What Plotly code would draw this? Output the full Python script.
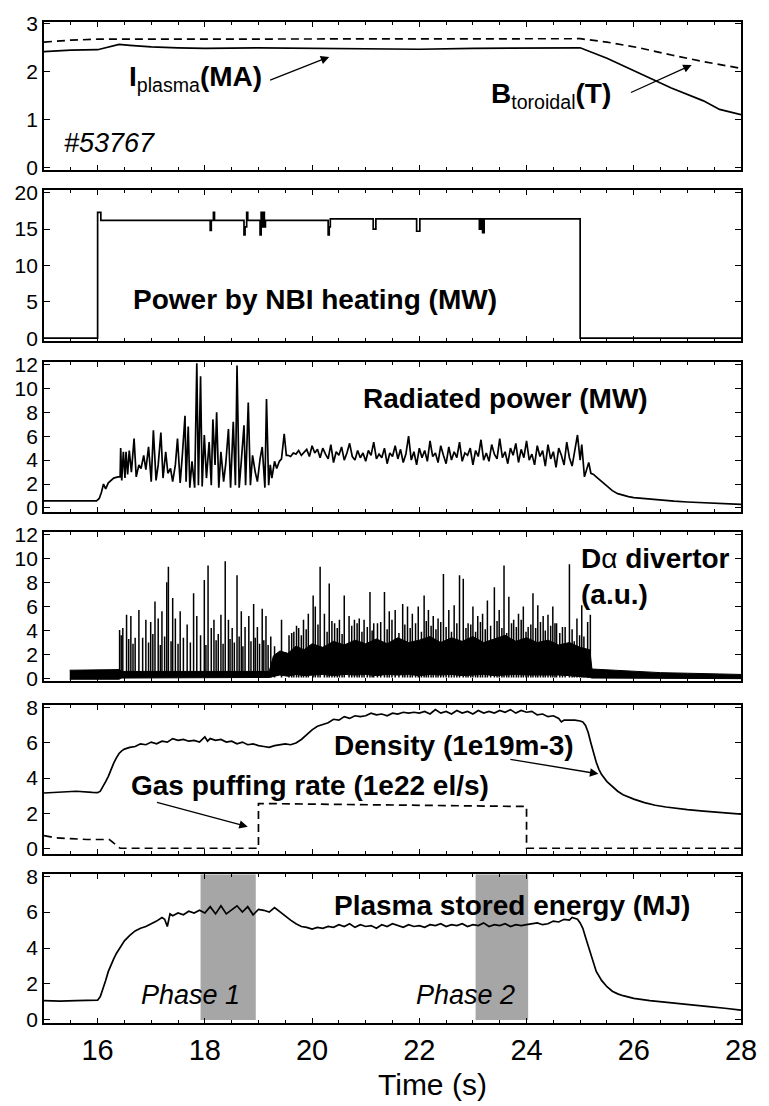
import plotly.graph_objects as go

# ---------------- data ----------------
ip_t = [15.0, 15.5, 16.0, 16.2, 16.4, 16.6, 17.0, 17.5, 18.0, 19.0, 20.0, 21.0, 22.0, 23.0, 24.0, 25.0, 25.5, 26.1, 26.7, 27.3, 27.6, 28.0]
ip_v = [2.42, 2.45, 2.46, 2.52, 2.57, 2.55, 2.52, 2.50, 2.49, 2.50, 2.49, 2.48, 2.47, 2.49, 2.49, 2.50, 2.28, 1.97, 1.66, 1.39, 1.21, 1.10]
bt_t = [15.0, 15.5, 16.0, 18.0, 20.0, 22.0, 24.0, 25.0, 25.5, 26.1, 26.7, 27.3, 28.0]
bt_v = [2.62, 2.66, 2.68, 2.68, 2.68, 2.69, 2.69, 2.69, 2.62, 2.50, 2.35, 2.21, 2.07]

nbi_t = [15.0, 16.0, 16.06, 18.10, 18.12, 18.16, 18.18, 18.73, 18.75, 18.78, 18.80, 19.03, 19.05, 19.07, 19.09, 19.11, 19.13,
         20.30, 20.32, 20.34, 21.14, 21.19, 21.95, 22.01, 23.12, 23.15, 23.18, 23.21, 25.0, 28.0]
nbi_v = [0.0, 17.3, 16.2, 14.8, 16.2, 17.3, 16.2, 14.2, 15.3, 17.3, 16.2, 14.2, 17.3, 15.3, 17.3, 15.3, 16.2,
         14.2, 15.3, 16.4, 15.0, 16.4, 14.7, 16.4, 15.0, 16.4, 14.5, 16.4, 0.0, 0.0]

prad_t = [15.0, 15.5, 15.98, 16.03, 16.07, 16.11, 16.15, 16.2, 16.25, 16.3, 16.38, 16.42,
          16.43, 16.45, 16.48, 16.51, 16.53, 16.56, 16.59, 16.63, 16.68, 16.72, 16.77, 16.81, 16.86, 16.90, 16.95,
          17.00, 17.04, 17.09, 17.13, 17.18, 17.22, 17.27, 17.31, 17.36, 17.40, 17.45, 17.49, 17.54, 17.58, 17.63,
          17.65, 17.69, 17.72, 17.76, 17.81, 17.85, 17.88, 17.92, 17.95, 17.99, 18.03, 18.08, 18.12, 18.15, 18.19,
          18.22, 18.26, 18.30, 18.35, 18.39, 18.44, 18.48, 18.53, 18.57, 18.60, 18.64, 18.68, 18.73, 18.76, 18.81,
          18.85, 18.89, 18.94, 18.98, 19.03, 19.07, 19.12, 19.15, 19.19, 19.22, 19.25, 19.30, 19.34, 19.39, 19.43,
          19.48, 19.52,
          19.55, 19.60, 19.65, 19.70, 19.75, 19.80, 19.85, 19.90, 19.95, 20.00, 20.05, 20.10, 20.15, 20.20, 20.25,
          20.30, 20.35, 20.40, 20.45, 20.50, 20.55, 20.60, 20.65, 20.70, 20.75, 20.80, 20.85, 20.90, 20.95, 21.00,
          21.05, 21.10, 21.15, 21.20, 21.25, 21.30, 21.35, 21.40, 21.45, 21.50, 21.55, 21.60, 21.65, 21.70, 21.75,
          21.80, 21.85, 21.90, 21.95, 22.00, 22.05, 22.10, 22.15, 22.20, 22.25, 22.30, 22.35, 22.40, 22.45, 22.50,
          22.55, 22.60, 22.65, 22.70, 22.75, 22.80, 22.85, 22.90, 22.95, 23.00, 23.05, 23.10, 23.15, 23.20, 23.25,
          23.30, 23.35, 23.40, 23.45, 23.50, 23.55, 23.60, 23.65, 23.70, 23.75, 23.80, 23.85, 23.90, 23.95, 24.00,
          24.05, 24.10, 24.15, 24.20, 24.25, 24.30, 24.35, 24.40, 24.45, 24.50, 24.55, 24.60, 24.65, 24.70, 24.75,
          24.80, 24.85, 24.90, 24.95, 25.00, 25.03, 25.08, 25.12, 25.16, 25.20, 25.25, 25.30, 25.40, 25.50, 25.60,
          25.70, 25.80, 25.90, 26.00, 26.25, 26.50, 26.75, 27.00, 27.50, 28.00]
prad_v = [0.6, 0.6, 0.6, 0.8, 1.3, 2.0, 1.6, 2.1, 2.3, 2.5, 2.6, 2.6,
          5.0, 2.3, 4.7, 2.5, 4.7, 2.8, 4.8, 3.0, 5.8, 2.6, 3.6, 3.3, 4.4, 3.2, 5.1,
          2.2, 6.5, 2.3, 3.6, 6.3, 2.5, 4.7, 2.9, 3.3, 2.2, 3.6, 5.8, 2.1, 4.4, 7.7,
          2.2, 6.8, 1.7, 3.9, 1.7, 12.1, 1.9, 11.0, 1.8, 6.1, 2.5, 5.5, 1.9, 7.4, 3.6,
          8.0, 1.7, 4.7, 2.2, 3.7, 6.6, 1.7, 7.2, 1.9, 11.9, 1.7, 3.9, 6.9, 1.9, 8.8,
          1.9, 4.4, 3.0, 2.2, 4.1, 5.1, 1.7, 9.1, 1.9, 3.6, 2.5, 3.9, 3.3, 3.9, 4.1,
          6.2, 4.4,
          4.4, 4.3, 4.6, 4.5, 4.8, 4.4, 4.7, 4.9, 4.3, 5.2, 4.6, 4.9, 4.2, 5.0, 4.5,
          4.1, 5.3, 3.8, 4.7, 4.4, 5.1, 4.0, 4.6, 5.4, 4.3, 4.0, 4.8, 4.2, 4.6, 3.9,
          4.8, 4.4, 5.5, 4.1, 4.5, 4.2, 5.0, 3.7, 4.6, 4.3, 5.2, 4.1, 4.9, 3.8, 4.5,
          6.0, 4.0, 4.7, 3.6, 5.0, 4.2, 4.8, 3.9, 5.6, 4.3, 4.6, 3.8, 5.2, 4.4, 3.7,
          5.1, 4.0, 4.7, 4.2, 5.5, 3.9, 4.6, 4.4, 5.0, 3.6, 4.8, 4.3, 5.7, 4.0, 4.6,
          3.9, 5.3, 4.5, 4.1, 5.8, 4.2, 4.7, 3.7, 5.0, 4.4, 5.4, 3.8, 4.9, 4.2, 5.6,
          4.0, 4.5, 3.6, 5.2, 4.3, 4.8, 3.5, 5.3, 4.1, 4.7, 3.4, 5.0, 4.4, 3.6, 5.5,
          4.2, 3.5, 5.0, 6.1, 4.0, 5.3, 2.6, 3.2, 3.8, 2.9, 2.8, 2.6, 2.2, 1.8, 1.45,
          1.2, 1.05, 0.95, 0.87, 0.75, 0.65, 0.57, 0.5, 0.4, 0.3]

# D-alpha: noise band envelope and spikes
da_band_t = [15.48, 16.4, 16.45, 19.2, 19.28, 19.4, 19.55, 19.7, 19.85, 20.0, 20.2, 20.4, 20.6, 20.8, 21.0, 21.2,
             21.4, 21.6, 21.8, 22.0, 22.2, 22.4, 22.6, 22.8, 23.0, 23.2, 23.4, 23.6, 23.8, 24.0, 24.2, 24.4, 24.6,
             24.8, 25.0, 25.18, 25.22, 25.6, 26.0, 26.5, 27.0, 27.5, 28.0]
da_band_hi = [0.7, 0.75, 0.6, 0.6, 1.9, 2.3, 2.1, 2.7, 2.4, 2.9, 2.6, 3.1, 2.8, 3.2, 2.9, 3.3,
              2.9, 3.4, 3.0, 3.2, 3.5, 3.0, 3.4, 3.1, 3.5, 3.0, 3.3, 3.6, 3.1, 3.4, 3.0, 3.2, 2.8,
              3.0, 2.6, 2.4, 0.8, 0.7, 0.6, 0.5, 0.45, 0.4, 0.35]
da_band_lo = [-0.05, -0.05, 0.05, 0.1, 0.2, 0.3, 0.2, 0.35, 0.25, 0.3, 0.35, 0.25, 0.35, 0.3, 0.35, 0.25,
              0.35, 0.3, 0.35, 0.25, 0.35, 0.3, 0.35, 0.25, 0.3, 0.35, 0.25, 0.3, 0.35, 0.3, 0.25, 0.3, 0.3,
              0.25, 0.2, 0.1, 0.05, 0.05, 0.0, 0.0, 0.0, 0.0, 0.0]
da_spk_t = [16.41, 16.47, 16.54, 16.62, 16.70, 16.77, 16.90, 16.99, 17.07, 17.13, 17.20, 17.29, 17.32, 17.40, 17.45,
            17.54, 17.67, 17.79, 17.85, 17.99, 18.06, 18.12, 18.17, 18.30, 18.38, 18.44, 18.51, 18.60, 18.68, 18.75,
            18.82, 18.91, 18.98, 19.07, 19.14, 19.23, 19.30, 19.43, 19.57, 19.66, 19.75, 19.84, 19.93, 20.02, 20.06,
            20.15, 20.23, 20.32, 20.42, 20.51, 20.60, 20.69, 20.79, 20.88, 20.97, 21.08, 21.15, 21.22, 21.35, 21.44,
            21.55, 21.69, 21.78, 21.87, 21.98, 22.09, 22.17, 22.26, 22.35, 22.45, 22.55, 22.65, 22.75, 22.82, 22.91,
            23.00, 23.09, 23.18, 23.27, 23.40, 23.49, 23.58, 23.67, 23.76, 23.85, 23.94, 24.03, 24.12, 24.21, 24.31,
            24.40, 24.49, 24.56, 24.67, 24.80, 24.89, 24.94, 25.03, 25.07, 25.14, 25.19,
            19.62, 19.71, 19.80, 19.89, 20.11, 20.28, 20.37, 20.47, 20.56, 20.74, 20.84, 20.93, 21.03, 21.12, 21.28,
            21.40, 21.49, 21.62, 21.73, 21.83, 21.93, 22.04, 22.13, 22.22, 22.31, 22.40, 22.50, 22.60, 22.70, 22.87,
            22.96, 23.05, 23.14, 23.23, 23.33, 23.45, 23.54, 23.63, 23.72, 23.81, 23.90, 23.99, 24.08, 24.17, 24.26,
            24.35, 24.45, 24.53, 24.62, 24.72, 24.85, 24.99,
            16.44, 16.58, 16.66, 16.84, 16.95, 17.03, 17.17, 17.25, 17.37, 17.50, 17.60, 17.73, 17.92, 18.02, 18.21,
            18.25, 18.34, 18.47, 18.55, 18.64, 18.71, 18.86, 18.94, 19.02, 19.10, 19.18]
da_spk_v = [4.05, 4.2, 5.3, 5.2, 3.4, 5.7, 4.9, 4.7, 6.4, 5.0, 5.6, 8.0, 9.3, 6.7, 5.0,
            5.6, 4.5, 7.1, 5.2, 8.2, 9.4, 4.2, 4.9, 5.3, 9.75, 4.9, 4.2, 8.6, 5.6, 4.3,
            5.2, 6.2, 4.3, 5.8, 5.2, 3.5, 2.7, 4.9, 3.6, 3.9, 4.2, 4.9, 5.4, 6.9, 6.0,
            9.3, 5.4, 7.9, 4.6, 4.9, 6.9, 5.2, 4.9, 5.0, 4.9, 7.2, 4.6, 4.6, 7.2, 5.6,
            5.7, 6.2, 6.0, 5.4, 6.0, 6.9, 5.7, 5.2, 5.0, 8.7, 5.7, 6.1, 8.6, 8.3, 4.6,
            6.0, 5.2, 5.4, 6.5, 7.6, 5.7, 9.4, 6.8, 4.9, 5.4, 6.0, 4.3, 7.1, 6.1, 5.2,
            5.3, 6.0, 4.6, 4.3, 9.5, 3.1, 5.0, 6.1, 3.5, 4.7, 5.3,
            3.8, 4.4, 3.6, 4.1, 4.5, 3.9, 4.8, 4.2, 3.7, 4.4, 4.6, 3.9, 4.3, 4.0, 4.7,
            4.1, 4.9, 3.8, 4.5, 4.2, 4.6, 3.9, 4.8, 4.4, 4.1, 4.7, 4.3, 3.9, 4.6, 4.2,
            4.5, 3.9, 4.7, 4.1, 4.4, 4.8, 4.2, 3.8, 4.6, 4.3, 4.9, 3.9, 4.5, 4.2, 4.7,
            4.0, 4.4, 4.6, 3.8, 4.3, 4.1, 3.6,
            3.6, 3.3, 2.9, 3.4, 3.0, 3.7, 2.8, 3.5, 3.1, 2.9, 3.4, 3.0, 3.6, 2.8, 3.2,
            3.7, 2.9, 3.3, 3.0, 3.5, 2.7, 3.1, 3.4, 2.9, 3.2, 2.8]

ne_t = [15.0, 15.3, 15.6, 15.9, 16.0, 16.05, 16.1, 16.15, 16.2, 16.25, 16.3, 16.35, 16.4, 16.45, 16.5, 16.6, 16.7,
        16.8, 16.9, 17.0, 17.1, 17.2, 17.3, 17.4, 17.5, 17.6, 17.7, 17.8, 17.9, 18.0, 18.05, 18.1, 18.2, 18.3, 18.4,
        18.5, 18.6, 18.7, 18.8, 18.9, 19.0, 19.1, 19.2, 19.3, 19.4, 19.5, 19.6, 19.7, 19.8, 19.9, 20.0, 20.1, 20.2,
        20.3, 20.4, 20.5, 20.6, 20.7, 20.8, 20.9, 21.0, 21.1, 21.2, 21.3, 21.4, 21.5, 21.6, 21.7, 21.8, 21.9, 22.0,
        22.1, 22.2, 22.3, 22.4, 22.5, 22.6, 22.7, 22.8, 22.9, 23.0, 23.1, 23.2, 23.3, 23.4, 23.5, 23.6, 23.7, 23.8,
        23.9, 24.0, 24.1, 24.2, 24.3, 24.4, 24.5, 24.6, 24.65, 24.7, 24.8, 24.9, 25.0, 25.05, 25.1, 25.15, 25.2,
        25.25, 25.3, 25.35, 25.4, 25.5, 25.6, 25.7, 25.8, 26.0, 26.2, 26.4, 26.6, 26.8, 27.0, 27.3, 27.6, 28.0]
ne_v = [3.15, 3.2, 3.25, 3.18, 3.17, 3.25, 3.5, 3.8, 4.1, 4.5, 4.85, 5.15, 5.4, 5.55, 5.65, 5.75, 5.8,
        5.95, 5.9, 6.05, 5.95, 6.1, 6.05, 6.25, 6.15, 6.2, 6.1, 6.15, 6.05, 6.35, 6.1, 6.25, 6.15, 6.2, 6.05,
        6.1, 5.95, 6.05, 5.9, 5.95, 5.85, 5.8, 5.75, 5.85, 5.9, 5.95, 5.9, 6.0, 6.2, 6.5, 6.75, 6.95, 7.05,
        7.15, 7.35, 7.3, 7.5, 7.4, 7.55, 7.5, 7.55, 7.7, 7.6, 7.65, 7.55, 7.7, 7.65, 7.75, 7.7, 7.75, 7.7,
        7.8, 7.65, 7.9, 7.7, 7.8, 7.65, 7.85, 7.7, 7.8, 7.65, 7.85, 7.7, 7.8, 7.7, 7.85, 7.75, 7.9, 7.7,
        7.85, 7.75, 7.8, 7.6, 7.65, 7.5, 7.55, 7.4, 7.2, 7.3, 7.3, 7.3, 7.25, 7.2, 7.0, 6.6, 6.0,
        5.4, 4.9, 4.5, 4.2, 3.8, 3.5, 3.25, 3.05, 2.8, 2.6, 2.45, 2.35, 2.27, 2.2, 2.12, 2.05, 1.95]

gas_t = [15.0, 15.2, 15.5, 15.8, 16.22, 16.3, 16.38, 16.42, 19.0, 19.0, 24.0, 24.0, 28.0]
gas_v = [0.72, 0.6, 0.55, 0.5, 0.5, 0.3, 0.08, 0.0, 0.0, 2.55, 2.38, 0.0, 0.0]

wp_t = [15.0, 15.3, 15.6, 16.0, 16.05, 16.1, 16.15, 16.2, 16.25, 16.3, 16.35, 16.4, 16.45, 16.5, 16.6, 16.7, 16.8,
        16.9, 17.0, 17.1, 17.2, 17.25, 17.3, 17.35, 17.4, 17.5, 17.6, 17.7, 17.8, 17.9, 18.0, 18.1, 18.2, 18.3,
        18.4, 18.5, 18.6, 18.7, 18.8, 18.9, 19.0, 19.1, 19.2, 19.3, 19.4, 19.5, 19.6, 19.7, 19.8, 19.9, 20.0,
        20.1, 20.2, 20.3, 20.4, 20.5, 20.6, 20.7, 20.8, 20.9, 21.0, 21.1, 21.2, 21.3, 21.4, 21.5, 21.6, 21.7,
        21.8, 21.9, 22.0, 22.1, 22.2, 22.3, 22.4, 22.5, 22.6, 22.7, 22.8, 22.9, 23.0, 23.1, 23.2, 23.3, 23.4,
        23.5, 23.6, 23.7, 23.8, 23.9, 24.0, 24.1, 24.2, 24.3, 24.4, 24.5, 24.6, 24.7, 24.8, 24.85, 24.95, 25.0,
        25.05, 25.1, 25.15, 25.2, 25.25, 25.3, 25.4, 25.5, 25.6, 25.7, 25.8, 26.0, 26.3, 26.6, 27.0, 27.4, 27.7, 28.0]
wp_v = [1.07, 1.05, 1.08, 1.1, 1.3, 1.7, 2.2, 2.7, 3.1, 3.4, 3.7, 3.95, 4.2, 4.4, 4.7, 4.95, 5.1,
        5.2, 5.35, 5.5, 5.7, 5.6, 5.2, 5.9, 5.8, 5.95, 5.85, 6.05, 5.95, 6.1, 5.95, 6.3, 5.9, 6.35,
        5.9, 6.1, 6.35, 6.0, 6.3, 5.85, 6.15, 6.1, 6.0, 6.25, 6.0, 5.8, 5.55, 5.35, 5.2, 5.15, 5.05,
        5.15, 5.1, 5.2, 5.15, 5.3, 5.2, 5.35, 5.15, 5.3, 5.2, 5.25, 5.1, 5.3, 5.2, 5.35, 5.25, 5.15,
        5.3, 5.2, 5.25, 5.15, 5.3, 5.25, 5.35, 5.2, 5.3, 5.25, 5.35, 5.2, 5.3, 5.25, 5.4, 5.2, 5.3,
        5.25, 5.35, 5.2, 5.3, 5.25, 5.3, 5.35, 5.4, 5.3, 5.35, 5.5, 5.45, 5.6, 5.55, 5.7, 5.6, 5.4,
        5.1, 4.6, 4.1, 3.6, 3.1, 2.7, 2.2, 1.85, 1.6, 1.45, 1.35, 1.2, 1.07, 0.97, 0.85, 0.74, 0.65, 0.55]

phase_names = ["Phase 1", "Phase 2"]
phase_start = [17.92, 23.05]
phase_end = [18.95, 24.03]

x_ticks = [16, 18, 20, 22, 24, 26, 28]
y_ticks = [[0, 1, 2, 3], [0, 5, 10, 15, 20], [0, 2, 4, 6, 8, 10, 12], [0, 2, 4, 6, 8, 10, 12], [0, 2, 4, 6, 8], [0, 2, 4, 6, 8]]
y_ranges = [[-0.05, 3.04], [-0.4, 20.3], [-0.3, 12.2], [-0.2, 12.15], [-0.3, 8.17], [-0.17, 8.1]]
domains = [[0.8525, 1.0], [0.6812, 0.8317], [0.5109, 0.6604], [0.3416, 0.4901], [0.1693, 0.3178], [0.0, 0.1485]]

# ---------------- figure ----------------
FONT = "Liberation Sans, Arial, Helvetica, sans-serif"
LW = 1.7
DASH = "8px,5px"
fig = go.Figure()

def line(x, y, n, dash=None, shape=None):
    fig.add_trace(go.Scatter(x=x, y=y, mode="lines", xaxis="x%d" % n if n > 1 else "x",
                             yaxis="y%d" % n if n > 1 else "y",
                             line=dict(color="black", width=LW, dash=dash, shape=shape or "linear"),
                             showlegend=False, hoverinfo="skip"))

line(bt_t, bt_v, 1, dash=DASH)
line(ip_t, ip_v, 1)
line(nbi_t, nbi_v, 2, shape="hv")
line(prad_t, prad_v, 3)

# D-alpha band (filled) and spikes
fig.add_trace(go.Scatter(x=da_band_t + da_band_t[::-1], y=da_band_hi + da_band_lo[::-1], mode="lines",
                         xaxis="x4", yaxis="y4", fill="toself", fillcolor="black",
                         line=dict(color="black", width=1), showlegend=False, hoverinfo="skip"))
sx, sy = [], []
for t, v in zip(da_spk_t, da_spk_v):
    sx += [t, t, None]
    sy += [0.1, v, None]
fig.add_trace(go.Scatter(x=sx, y=sy, mode="lines", xaxis="x4", yaxis="y4",
                         line=dict(color="black", width=1.5), showlegend=False, hoverinfo="skip"))

line(ne_t, ne_v, 5)
line(gas_t, gas_v, 5, dash=DASH)
line(wp_t, wp_v, 6)

layout = dict(width=769, height=1106, margin=dict(l=44, r=19, t=13, b=83),
              paper_bgcolor="white", plot_bgcolor="white",
              font=dict(family=FONT, color="black", size=21), showlegend=False)

for i in range(6):
    n = i + 1
    xk = "xaxis" if n == 1 else "xaxis%d" % n
    yk = "yaxis" if n == 1 else "yaxis%d" % n
    layout[xk] = dict(domain=[0, 1], range=[15, 28], anchor="y" if n == 1 else "y%d" % n,
                      tickvals=x_ticks, ticks="inside", ticklen=5, tickwidth=1.2, tickcolor="black",
                      minor=dict(dtick=0.5, tick0=15, ticks="inside", ticklen=3, tickwidth=1.2, tickcolor="black"),
                      mirror="ticks", showline=True, linewidth=1.8, linecolor="black",
                      showgrid=False, zeroline=False, showticklabels=(n == 6),
                      tickfont=dict(size=29, family=FONT))
    layout[yk] = dict(domain=domains[i], range=y_ranges[i], anchor="x" if n == 1 else "x%d" % n,
                      tickvals=y_ticks[i], ticks="inside", ticklen=6, tickwidth=1.2, tickcolor="black",
                      mirror="ticks", showline=True, linewidth=1.8, linecolor="black",
                      showgrid=False, zeroline=False, tickfont=dict(size=21, family=FONT))

shapes = []
for s, e in zip(phase_start, phase_end):
    shapes.append(dict(type="rect", xref="x6", yref="y6", x0=s, x1=e, y0=0.0, y1=8.1,
                       fillcolor="#a6a6a6", line=dict(width=0), layer="below"))
layout["shapes"] = shapes

def ann(text, x, y, n, size=28, italic=False, bold=True, **kw):
    t = text
    if bold:
        t = "<b>%s</b>" % t
    if italic:
        t = "<i>%s</i>" % t
    d = dict(text=t, x=x, y=y, xref="x%d" % n if n > 1 else "x", yref="y%d" % n if n > 1 else "y",
             xanchor="left", yanchor="middle", showarrow=False, font=dict(family=FONT, size=size, color="black"))
    d.update(kw)
    return d

def arrow(x0, y0, x1, y1, n):
    xr = "x%d" % n if n > 1 else "x"
    yr = "y%d" % n if n > 1 else "y"
    return dict(text="", x=x1, y=y1, ax=x0, ay=y0, xref=xr, yref=yr, axref=xr, ayref=yr,
                showarrow=True, arrowhead=2, arrowsize=1.3, arrowwidth=1.3, arrowcolor="black")

annotations = [
    ann("<b>I</b><sub>plasma</sub><b>(MA)</b>", 16.55, 1.86, 1, bold=False),
    ann("<b>B</b><sub>toroidal</sub><b>(T)</b>", 23.3, 1.5, 1, bold=False),
    ann("#53767", 15.33, 0.5, 1, size=27, italic=True, bold=False),
    arrow(19.19, 1.81, 20.32, 2.31, 1),
    arrow(25.92, 1.55, 27.08, 2.14, 1),
    ann("Power by NBI heating (MW)", 16.63, 5.3, 2),
    ann("Radiated power (MW)", 20.92, 9.13, 3),
    ann("<b>D</b>α<b> divertor</b><br><b>(a.u.)</b>", 24.98, 8.45, 4, bold=False, align="left"),
    ann("Density (1e19m-3)", 20.38, 5.86, 5),
    ann("Gas puffing rate (1e22 el/s)", 16.59, 3.6, 5),
    arrow(23.67, 5.08, 25.34, 4.24, 5),
    arrow(17.08, 2.64, 18.8, 1.23, 5),
    ann("Plasma stored energy (MJ)", 20.38, 6.35, 6),
    ann(phase_names[0], 16.77, 1.38, 6, size=27, italic=True, bold=False),
    ann(phase_names[1], 21.91, 1.38, 6, size=27, italic=True, bold=False),
    dict(text="Time (s)", x=0.557, y=-0.0614, xref="paper", yref="paper", xanchor="center", yanchor="middle",
         showarrow=False, font=dict(family=FONT, size=30, color="black")),
]
layout["annotations"] = annotations

fig.update_layout(**layout)
fig.write_html("out.html")
